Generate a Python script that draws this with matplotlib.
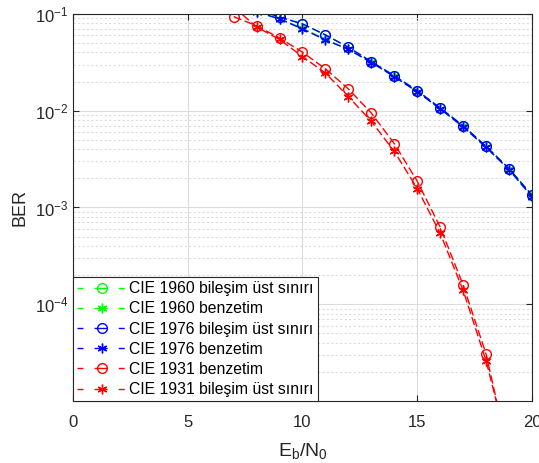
import matplotlib.pyplot as plt
from matplotlib.lines import Line2D
import numpy as np

plt.rcParams['font.family'] = ['Liberation Sans', 'DejaVu Sans']
plt.rcParams['mathtext.fontset'] = 'custom'
plt.rcParams['mathtext.rm'] = 'Liberation Sans'
plt.rcParams['mathtext.it'] = 'Liberation Sans'

# Eb/N0 (dB)
snr_blue = [8, 9, 10, 11, 12, 13, 14, 15, 16, 17, 18, 19, 20]
# CIE 1960 / 1976 (neredeyse ayni)
ber_1960_ust = [0.112, 0.093, 0.0789, 0.0608, 0.0452, 0.0322, 0.0230, 0.0161, 0.01066, 0.0070, 0.00428, 0.00252, 0.00134]
ber_1960_benz = [0.105, 0.089, 0.0712, 0.0548, 0.0430, 0.0318, 0.0226, 0.0158, 0.01050, 0.0069, 0.00420, 0.00248, 0.00130]
ber_1976_ust = [0.112, 0.093, 0.0789, 0.0608, 0.0452, 0.0322, 0.0230, 0.0161, 0.01066, 0.0070, 0.00428, 0.00252, 0.00134]
ber_1976_benz = [0.105, 0.089, 0.0700, 0.0540, 0.0430, 0.0315, 0.0225, 0.0157, 0.01045, 0.0068, 0.00418, 0.00246, 0.00129]

snr_red = [7, 8, 9, 10, 11, 12, 13, 14, 15, 16, 17, 18, 19]
ber_1931_benz = [0.094, 0.0755, 0.0565, 0.0403, 0.0271, 0.0168, 0.00946, 0.00457, 0.00187, 0.000627, 1.58e-4, 3.05e-5, 2.7e-6]
ber_1931_ust = [0.118, 0.0735, 0.0545, 0.0363, 0.0245, 0.0140, 0.00776, 0.0038, 0.00157, 0.00054, 1.39e-4, 2.6e-5, 3.0e-6]

etiketler = ['CIE 1960 bileşim üst sınırı', 'CIE 1960 benzetim',
             'CIE 1976 bileşim üst sınırı', 'CIE 1976 benzetim',
             'CIE 1931 benzetim', 'CIE 1931 bileşim üst sınırı']

asterisk = (6, 2, 0)
yesil = (0, 1, 0)
mavi = (0, 0, 1)
kirmizi = (1, 0, 0)

fig = plt.figure(figsize=(5.39, 4.63), dpi=100)
ax = fig.add_axes([0.1354, 0.1339, 0.8516, 0.8359])

kw = dict(linestyle=(0, (6, 2.5)), linewidth=1.0, markersize=7, markerfacecolor='none')
seriler = [
    (snr_blue, ber_1960_ust, yesil, 'o'),
    (snr_blue, ber_1960_benz, yesil, asterisk),
    (snr_blue, ber_1976_ust, mavi, 'o'),
    (snr_blue, ber_1976_benz, mavi, asterisk),
    (snr_red, ber_1931_benz, kirmizi, 'o'),
    (snr_red, ber_1931_ust, kirmizi, asterisk),
]
for x, y, c, m in seriler:
    ax.semilogy(x, y, color=c, marker=m, **kw)

# legend icin ayri cizgiler (matlab gibi "- o -")
handles = [Line2D([], [], color=c, marker=m, markersize=7, markerfacecolor='none',
                  linewidth=1.0, linestyle=(0, (4.3, 8.0, 9.4, 8.0)))
           for x, y, c, m in seriler]

ax.set_xlim(0, 20)
ax.set_ylim(1e-5, 1e-1)
ax.set_xticks([0, 5, 10, 15, 20])
ax.set_yticks([1e-4, 1e-3, 1e-2, 1e-1])

ax.grid(True, which='major', color='#dcdcdc', linestyle='-', linewidth=0.8)
ax.grid(True, which='minor', axis='y', color='#dcdcdc', linestyle=(0, (2, 2)), linewidth=0.8)
ax.set_axisbelow(True)

for s in ax.spines.values():
    s.set_color('#262626')
    s.set_linewidth(0.8)
ax.tick_params(which='both', direction='in', top=True, right=True, labelsize=12,
               color='#262626', labelcolor='#262626')
ax.tick_params(which='minor', length=0)
ax.tick_params(which='major', length=4)
ax.tick_params(axis='x', pad=10)

ax.set_xlabel(r'$\mathrm{E_b/N_0}$', fontsize=14, color='#262626', labelpad=8)
ax.set_ylabel('BER', fontsize=13, color='#262626')

leg = ax.legend(handles, etiketler, loc='lower left', fontsize=11.3, borderaxespad=0,
                frameon=True, fancybox=False, framealpha=1, edgecolor='#262626',
                handlelength=3.25, handletextpad=0.1, labelspacing=0.33,
                borderpad=0.25, numpoints=1)
leg.get_frame().set_linewidth(0.8)

fig.savefig('out.png', dpi=100)
